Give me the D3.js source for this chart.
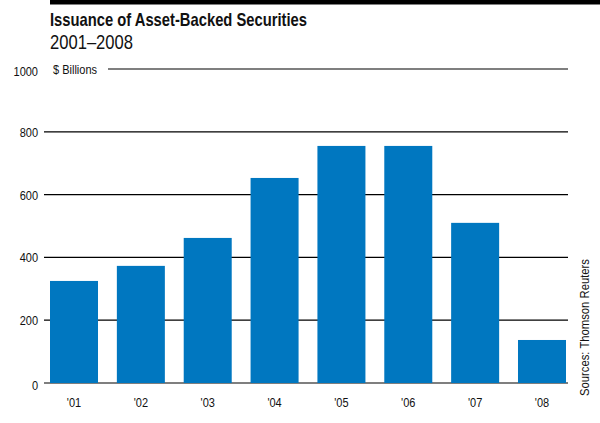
<!DOCTYPE html>
<html>
<head>
<meta charset="utf-8">
<script src="https://cdn.jsdelivr.net/npm/d3@7"></script>
<style>
  html, body { margin: 0; padding: 0; background: #fff; }
  svg { display: block; }
  text { font-family: "Liberation Sans", Arial, sans-serif; fill: #111; }
</style>
</head>
<body>
<svg id="chart" width="600" height="423"></svg>
<script>
// Annual issuance of asset-backed securities, $ billions
const years = ["'01", "'02", "'03", "'04", "'05", "'06", "'07", "'08"];
const issuance = [325, 373, 462, 653, 755, 755, 510, 137];
const yTicks = [0, 200, 400, 600, 800, 1000];

const svg = d3.select("#chart");
const plotLeft = 50, plotRight = 568, plotTop = 69, plotBottom = 383;

const x = d3.scaleBand().domain(years).range([plotLeft, 566]).paddingInner(0.282).paddingOuter(0);
const y = d3.scaleLinear().domain([0, 1000]).range([plotBottom, plotTop]);

// squeeze a text run horizontally to mimic a condensed face
function condense(sel, factor) {
  sel.each(function () {
    const w = this.getComputedTextLength();
    d3.select(this).attr("textLength", w * factor).attr("lengthAdjust", "spacingAndGlyphs");
  });
}

// header rule
svg.append("rect").attr("x", plotLeft).attr("y", 0).attr("width", 600 - plotLeft).attr("height", 4.5).attr("fill", "#000");

svg.append("text").attr("x", plotLeft).attr("y", 26)
  .style("font-size", "18.5px").style("font-weight", "bold")
  .attr("textLength", 257).attr("lengthAdjust", "spacingAndGlyphs")
  .text("Issuance of Asset-Backed Securities");
svg.append("text").attr("x", plotLeft).attr("y", 48.5)
  .style("font-size", "20.5px")
  .attr("textLength", 83).attr("lengthAdjust", "spacingAndGlyphs")
  .text("2001–2008");

// gridlines and value labels
const grid = svg.append("g");
yTicks.forEach(t => {
  grid.append("line")
    .attr("x1", t === 1000 ? 108 : plotLeft - 6).attr("x2", plotRight)
    .attr("y1", y(t)).attr("y2", y(t))
    .attr("stroke", "#000").attr("stroke-width", 1.2);
  grid.append("text")
    .attr("class", "small")
    .attr("x", 38).attr("y", y(t) + 5 + (t === 0 ? 2 : 0) + (t === 1000 ? 2 : 0))
    .attr("text-anchor", "end").style("font-size", "12.5px")
    .text(t);
});
svg.append("text").attr("class", "small").attr("x", 53).attr("y", y(1000) + 4.5)
  .style("font-size", "12.5px").text("$ Billions");

// bars
svg.append("g").selectAll("rect").data(years).join("rect")
  .attr("x", d => x(d))
  .attr("width", x.bandwidth())
  .attr("y", (d, i) => y(issuance[i]))
  .attr("height", (d, i) => y(0) - y(issuance[i]))
  .attr("fill", "#0077c0");

// year labels
svg.append("g").selectAll("text").data(years).join("text")
  .attr("class", "small")
  .attr("x", d => x(d) + x.bandwidth() / 2)
  .attr("y", 407)
  .attr("text-anchor", "middle").style("font-size", "12.5px")
  .text(d => d);

svg.selectAll("text.small").call(condense, 0.88);

// source note
svg.append("text")
  .attr("transform", "translate(589,396) rotate(-90)")
  .style("font-size", "12.5px")
  .attr("textLength", 137).attr("lengthAdjust", "spacingAndGlyphs")
  .text("Sources: Thomson Reuters");
</script>
</body>
</html>
